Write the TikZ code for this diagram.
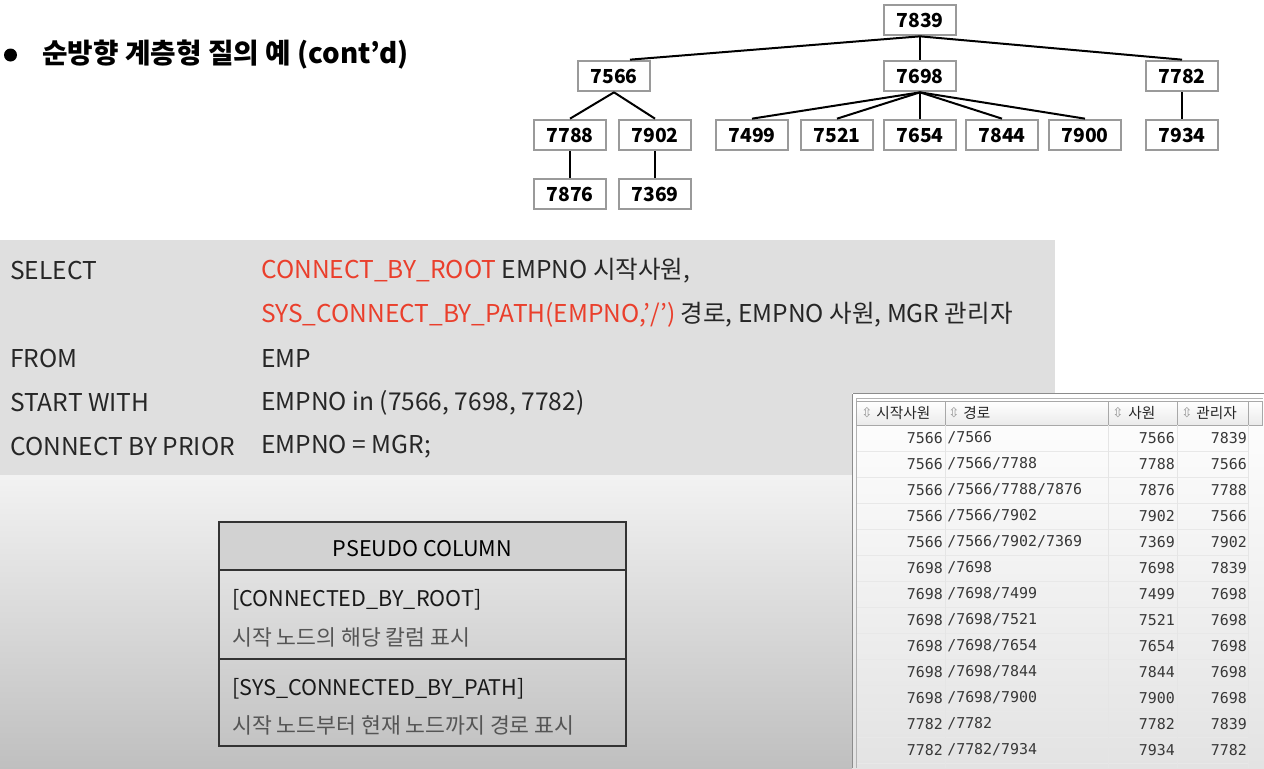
\documentclass[tikz,border=0pt]{standalone}
\usepackage{fontspec}
\setmainfont{Noto Sans CJK KR}
\newfontfamily\sqlf{Noto Sans CJK KR}
\newfontfamily\monof{DejaVu Sans Mono}
\newfontfamily\symf{DejaVu Sans}
\usetikzlibrary{calc}
\definecolor{sqlgray}{HTML}{DFDFDF}
\definecolor{sqlred}{HTML}{EA3F2C}
\definecolor{treegray}{HTML}{9A9A9A}
\definecolor{pshead}{HTML}{D2D2D2}
\definecolor{pstext}{HTML}{555555}
\definecolor{tbltext}{HTML}{383838}
\definecolor{tblline}{HTML}{A8A8A8}
\begin{document}
\begin{tikzpicture}[x=0.75pt,y=-0.75pt,
  tnode/.style={draw=treegray, line width=1.5pt, fill=white, minimum width=53.5pt, minimum height=23pt, inner sep=0pt, font=\bfseries\fontsize{14.5}{16}\selectfont},
  tedge/.style={line width=1.5pt, draw=black},
  sqltxt/.style={anchor=west, inner sep=0pt, font=\sqlf\fontsize{18.4}{21}\selectfont, text=black!85},
  pslabel/.style={anchor=west, inner sep=0pt, font=\fontsize{16.2}{18}\selectfont, text=black!90},
  psdesc/.style={anchor=west, inner sep=0pt, font=\fontsize{16.2}{18}\selectfont, text=pstext},
  mono/.style={inner sep=0pt, font=\monof\fontsize{11.2}{12}\selectfont, text=tbltext},
  hdr/.style={anchor=west, inner sep=0pt, font=\fontsize{11}{13}\selectfont, text=black!85},
  sorticon/.style={inner sep=0pt, font=\symf\fontsize{10}{11}\selectfont, text=black!40},
  hcell/.style={draw=tblline, line width=0.75pt, top color=white, bottom color=black!8}
]
\useasboundingbox (0,0) rectangle (1264,768);
% backgrounds
\fill[white] (0,0) rectangle (1264,768);
\shade[top color=black!5, bottom color=black!25] (0,475) rectangle (1264,768);
\fill[sqlgray] (0,240) rectangle (1055,475);

% title
\fill[black] (10.5,55) circle (6.5);
\node[anchor=west, inner sep=0pt, font=\bfseries\fontsize{20.8}{23}\selectfont] (title) at (42,55) {순방향 계층형 질의 예 (cont’d)};

% tree
\node[tnode] (n7839) at (920,20) {7839};
\node[tnode] (n7566) at (614,76) {7566};
\node[tnode] (n7698) at (920,76) {7698};
\node[tnode] (n7782) at (1182,76) {7782};
\node[tnode] (n7788) at (570,135) {7788};
\node[tnode] (n7902) at (655,135) {7902};
\node[tnode] (n7499) at (752,135) {7499};
\node[tnode] (n7521) at (837,135) {7521};
\node[tnode] (n7654) at (920,135) {7654};
\node[tnode] (n7844) at (1002,135) {7844};
\node[tnode] (n7900) at (1085,135) {7900};
\node[tnode] (n7934) at (1182,135) {7934};
\node[tnode] (n7876) at (570,194) {7876};
\node[tnode] (n7369) at (655,194) {7369};
\draw[tedge] (n7839.south) -- ($(n7566.north)+(16,0)$);
\draw[tedge] (n7839.south) -- (n7698.north);
\draw[tedge] (n7839.south) -- (n7782.north);
\draw[tedge] (n7566.south) -- (n7788.north);
\draw[tedge] (n7566.south) -- (n7902.north);
\foreach \c in {7499,7521,7654,7844,7900} \draw[tedge] (n7698.south) -- (n\c.north);
\draw[tedge] (n7782.south) -- (n7934.north);
\draw[tedge] (n7788.south) -- (n7876.north);
\draw[tedge] (n7902.south) -- (n7369.north);

% SQL
\node[sqltxt] (s1a) at (10,271) {SELECT};
\node[sqltxt] (s1b) at (261,271) {{\color{sqlred}CONNECT\_BY\_ROOT} EMPNO 시작사원,};
\node[sqltxt] (s2b) at (261,315) {{\color{sqlred}SYS\_CONNECT\_BY\_PATH(EMPNO,’/’)} 경로, EMPNO 사원, MGR 관리자};
\node[sqltxt] (s3a) at (10,359) {FROM};
\node[sqltxt] (s3b) at (261,359) {EMP};
\node[sqltxt] (s4a) at (10,403) {START WITH};
\node[sqltxt] (s4b) at (261,403) {EMPNO in (7566, 7698, 7782)};
\node[sqltxt] (s5a) at (10,447) {CONNECT BY PRIOR};
\node[sqltxt] (s5b) at (261,447) {EMPNO = MGR;};

% pseudo column box
\fill[pshead] (219,522) rectangle (626,570);
\draw[black!80, line width=1.5pt] (219,522) rectangle (626,746);
\draw[black!80, line width=1.5pt] (219,570) -- (626,570);
\draw[black!80, line width=1.5pt] (219,659) -- (626,659);
\node[inner sep=0pt, font=\fontsize{16.2}{18}\selectfont] (pshdr) at (422.5,549) {PSEUDO COLUMN};
\node[pslabel] (p1) at (232,600) {[CONNECTED\_BY\_ROOT]};
\node[psdesc] (p1d) at (232,637) {시작 노드의 해당 칼럼 표시};
\node[pslabel] (p2) at (232,689) {[SYS\_CONNECTED\_BY\_PATH]};
\node[psdesc] (p2d) at (232,725) {시작 노드부터 현재 노드까지 경로 표시};

% result table
\shade[top color=white, bottom color=black!11] (852,393) rectangle (1264,768);
\draw[black!45, line width=1pt] (852.5,393.5) -- (1263.5,393.5);
\draw[black!45, line width=1pt] (852.5,393.5) -- (852.5,768);
\draw[black!30, line width=0.75pt] (856,398) -- (1263,398);
\draw[black!30, line width=0.75pt] (856,398) -- (856,768);
\path[hcell] (856,401) rectangle (945,425);
\path[hcell] (945,401) rectangle (1108,425);
\path[hcell] (1108,401) rectangle (1177,425);
\path[hcell] (1177,401) rectangle (1248,425);
\path[hcell] (1248,401) rectangle (1262,425);
\foreach \k in {0,...,12} \draw[black!9, line width=0.75pt] (857,{451+26*\k}) -- (1248,{451+26*\k});
\foreach \xx in {945,1108,1177,1248} \draw[black!10, line width=0.75pt] (\xx,425) -- (\xx,768);
\node[sorticon] (ic1) at (867,413) {⇳};
\node[hdr] (h1) at (876,413) {시작사원};
\node[sorticon] (ic2) at (954,413) {⇳};
\node[hdr] (h2) at (963,413) {경로};
\node[sorticon] (ic3) at (1118,413) {⇳};
\node[hdr] (h3) at (1128,413) {사원};
\node[sorticon] (ic4) at (1187,413) {⇳};
\node[hdr] (h4) at (1196,413) {관리자};
\foreach \a/\b/\c/\d [count=\i from 0] in {
  7566/{/7566}/7566/7839,
  7566/{/7566/7788}/7788/7566,
  7566/{/7566/7788/7876}/7876/7788,
  7566/{/7566/7902}/7902/7566,
  7566/{/7566/7902/7369}/7369/7902,
  7698/{/7698}/7698/7839,
  7698/{/7698/7499}/7499/7698,
  7698/{/7698/7521}/7521/7698,
  7698/{/7698/7654}/7654/7698,
  7698/{/7698/7844}/7844/7698,
  7698/{/7698/7900}/7900/7698,
  7782/{/7782}/7782/7839,
  7782/{/7782/7934}/7934/7782}{
  \pgfmathsetmacro\yy{438+26*\i}
  \node[mono, anchor=east] (ca\i) at (943,\yy) {\a};
  \node[mono, anchor=west] (cb\i) at (947,\yy) {\b};
  \node[mono, anchor=east] (cc\i) at (1175,\yy) {\c};
  \node[mono, anchor=east] (cd\i) at (1247,\yy) {\d};
}
\end{tikzpicture}
\end{document}
